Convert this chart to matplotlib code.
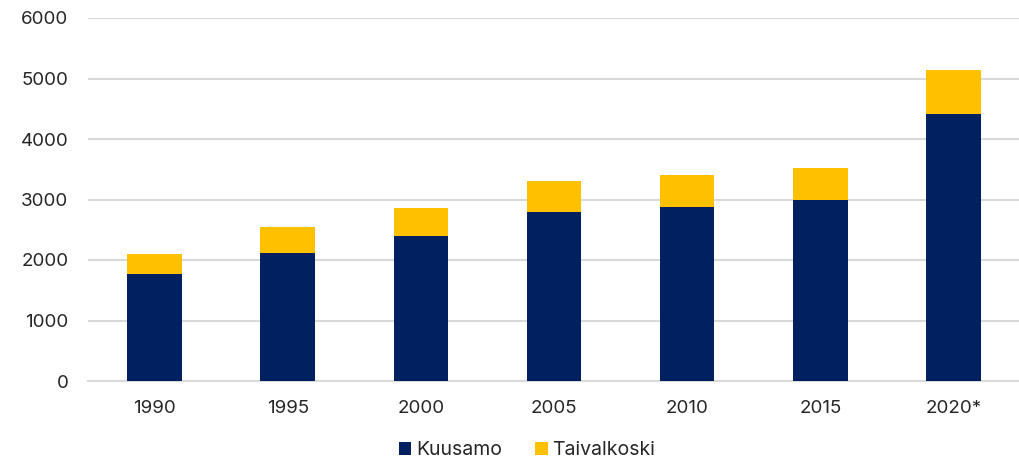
import matplotlib.pyplot as plt
import numpy as np

years = ["1990", "1995", "2000", "2005", "2010", "2015", "2020*"]
kuusamo = [1769, 2118, 2393, 2786, 2874, 2985, 4411]
taivalkoski = [332, 431, 464, 526, 537, 542, 730]

plt.rcParams["font.family"] = ["Inter", "DejaVu Sans"]
text_c = "#262626"
grid_c = "#d9d9d9"

fig = plt.figure(figsize=(10.2, 4.59), dpi=100)
ax = fig.add_axes([88 / 1020, 1 - 381 / 459, 1 - 88 / 1020, (381 - 18) / 459])

x = np.arange(len(years))
w = 0.41
ax.bar(x, kuusamo, w, color="#002060", label="Kuusamo", zorder=3)
ax.bar(x, taivalkoski, w, bottom=kuusamo, color="#FFC000", label="Taivalkoski", zorder=3)

ax.set_xlim(-0.5, len(years) - 0.5)
ax.set_ylim(0, 6000)
ax.set_yticks(range(0, 6001, 1000))
ax.set_xticks(x)
ax.set_xticklabels(years)
ax.yaxis.grid(True, color=grid_c, linewidth=1.5, zorder=0)
for s in ["top", "right", "left"]:
    ax.spines[s].set_visible(False)
ax.spines["bottom"].set_color(grid_c)
ax.spines["bottom"].set_linewidth(1.5)
ax.tick_params(axis="both", length=0, labelsize=13.5, labelcolor=text_c)
ax.tick_params(axis="y", pad=14)
ax.tick_params(axis="x", pad=14)

fig.legend(loc="center", bbox_to_anchor=(527 / 1020, 1 - 450 / 459), ncol=2, frameon=False,
           fontsize=14, labelcolor=text_c, handlelength=0.65, handleheight=0.65,
           handletextpad=0.25, columnspacing=1.7, borderaxespad=0, borderpad=0)

fig.savefig("out.png", dpi=100)
